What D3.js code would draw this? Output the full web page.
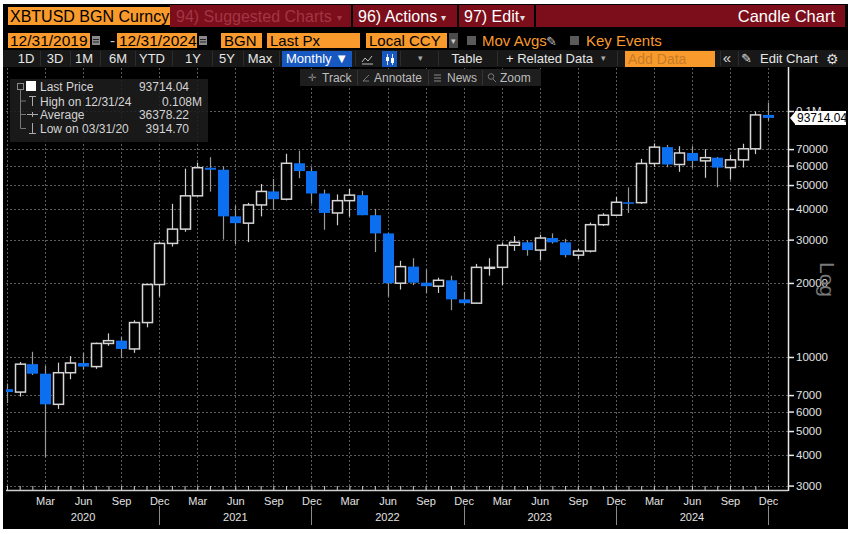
<!DOCTYPE html>
<html>
<head>
<meta charset="utf-8">
<script src="https://cdn.jsdelivr.net/npm/d3@7"></script>
<style>
  body { margin: 0; background: #fff; }
  svg { display: block; font-family: "Liberation Sans", Arial, sans-serif; }
</style>
</head>
<body>
<div id="wrapper"></div>
<script>
// monthly candles, Dec 2019 .. Dec 2024
const months = ["2019-12",
  "2020-01","2020-02","2020-03","2020-04","2020-05","2020-06","2020-07","2020-08","2020-09","2020-10","2020-11","2020-12",
  "2021-01","2021-02","2021-03","2021-04","2021-05","2021-06","2021-07","2021-08","2021-09","2021-10","2021-11","2021-12",
  "2022-01","2022-02","2022-03","2022-04","2022-05","2022-06","2022-07","2022-08","2022-09","2022-10","2022-11","2022-12",
  "2023-01","2023-02","2023-03","2023-04","2023-05","2023-06","2023-07","2023-08","2023-09","2023-10","2023-11","2023-12",
  "2024-01","2024-02","2024-03","2024-04","2024-05","2024-06","2024-07","2024-08","2024-09","2024-10","2024-11","2024-12"];

const openPx = [7400,
  7200, 9350, 8550, 6420, 8630, 9450, 9140, 11350, 11650, 10780, 13800, 19700,
  28950, 33100, 45200, 58800, 57700, 37300, 35000, 41500, 47100, 43800, 61300, 57000,
  46200, 38500, 43200, 45500, 37700, 31800, 19950, 23300, 20050, 19400, 20500, 17150,
  16550, 23140, 23150, 28450, 29250, 27200, 30450, 29250, 25950, 26950, 34500, 37700,
  42550, 42400, 61200, 71300, 60600, 67500, 62700, 64600, 58900, 63300, 70200, 96400];

const highPx = [7800,
  9550, 10500, 9200, 9480, 10080, 10400, 11440, 12470, 12080, 14100, 19860, 29300,
  41950, 58300, 61700, 64900, 59600, 41300, 42300, 50500, 52900, 67000, 69000, 59100,
  47900, 45800, 48200, 47400, 40000, 31900, 24600, 25200, 22700, 21000, 21400, 18400,
  23900, 25200, 29200, 31000, 29800, 31400, 31800, 30200, 27500, 35200, 38400, 44700,
  48900, 63900, 73800, 72800, 71900, 71900, 70000, 65000, 66500, 73600, 99600, 108300];

const lowPx = [6500,
  6900, 8450, 3914.7, 6150, 8120, 8900, 8950, 11100, 9880, 10400, 13200, 17600,
  28100, 32300, 45000, 47000, 30000, 28800, 29300, 37300, 39600, 43300, 53300, 42000,
  32900, 34300, 37200, 37700, 26700, 17600, 18800, 19600, 18200, 18200, 15500, 16300,
  16500, 21400, 19600, 27000, 25800, 24800, 28900, 25400, 24900, 26600, 34100, 37600,
  38500, 41900, 59300, 59100, 56600, 58500, 53500, 49000, 52600, 58900, 66800, 91300];

const closePx = [7200,
  9350, 8550, 6420, 8630, 9450, 9140, 11350, 11650, 10780, 13800, 19700, 28950,
  33100, 45200, 58800, 57700, 37300, 35000, 41500, 47100, 43800, 61300, 57000, 46200,
  38500, 43200, 45500, 37700, 31800, 19950, 23300, 20050, 19400, 20500, 17150, 16550,
  23140, 23150, 28450, 29250, 27200, 30450, 29250, 25950, 26950, 34500, 37700, 42550,
  42400, 61200, 71300, 60600, 67500, 62700, 64600, 58900, 63300, 70200, 96400, 93714.04];

const yTicks = [3000, 4000, 5000, 6000, 7000, 10000, 20000, 30000, 40000, 50000, 60000, 70000, 100000];
const yTickLabels = ["3000","4000","5000","6000","7000","10000","20000","30000","40000","50000","60000","70000","0.1M"];
const quarterNames = {"03": "Mar", "06": "Jun", "09": "Sep", "12": "Dec"};
const years = ["2020", "2021", "2022", "2023", "2024"];
const yearMid = ["2020-06", "2021-06", "2022-06", "2023-06", "2024-06"];
const yearEnd = ["2020-12", "2021-12", "2022-12", "2023-12", "2024-12"];

const legendNames = ["Last Price", "High on 12/31/24", "Average", "Low on 03/31/20"];
const legendValues = ["93714.04", "0.108M", "36378.22", "3914.70"];
const lastPrice = 93714.04;

const data = months.map((m, i) => ({m: m, o: openPx[i], h: highPx[i], l: lowPx[i], c: closePx[i]}));

const width = 851, height = 534;
const plot = {left: 6, right: 788, top: 68, bottom: 490};

const svg = d3.select("#wrapper").append("svg")
    .attr("width", width).attr("height", height);

svg.append("rect").attr("x", 3).attr("y", 4).attr("width", 845).attr("height", 525).attr("fill", "#000");

const xScale = d3.scalePoint().domain(months).range([7, 768]);
const yScale = d3.scaleLog().domain([3000, 100000]).range([485.6, 111]);

// grid
const grid = svg.append("g").attr("stroke", "#5a5a5a").attr("stroke-dasharray", "2,2").attr("stroke-width", 1);
yTicks.forEach(v => {
  grid.append("line").attr("x1", plot.left).attr("x2", plot.right)
    .attr("y1", Math.round(yScale(v)) + 0.5).attr("y2", Math.round(yScale(v)) + 0.5);
});
months.filter((m, i) => i == 0 || quarterNames[m.slice(5)]).forEach(m => {
  grid.append("line").attr("y1", plot.top).attr("y2", plot.bottom)
    .attr("x1", Math.round(xScale(m)) + 0.5).attr("x2", Math.round(xScale(m)) + 0.5);
});

// candles
svg.append("clipPath").attr("id", "clip").append("rect")
  .attr("x", plot.left).attr("y", plot.top).attr("width", plot.right - plot.left).attr("height", plot.bottom - plot.top);
const candles = svg.append("g").attr("clip-path", "url(#clip)");
const bw = 10;

data.forEach(d => {
  const cx = Math.round(xScale(d.m)) + 0.5;
  const up = d.c >= d.o;
  const top = yScale(Math.max(d.o, d.c)), bot = yScale(Math.min(d.o, d.c));
  candles.append("line").attr("x1", cx).attr("x2", cx)
    .attr("y1", yScale(d.h)).attr("y2", yScale(d.l))
    .attr("stroke", up ? "#d0d0d0" : "#9a9a9a").attr("stroke-width", 1.2);
  if (up) {
    candles.append("rect").attr("x", cx - bw / 2).attr("y", top)
      .attr("width", bw).attr("height", Math.max(bot - top, 1))
      .attr("fill", "#000").attr("stroke", "#d6d6d6").attr("stroke-width", 1.5);
  } else {
    candles.append("rect").attr("x", cx - bw / 2 - 0.5).attr("y", top)
      .attr("width", bw + 1).attr("height", Math.max(bot - top, 1.5))
      .attr("fill", "#0b6ff0");
  }
});

// x axis
const xAxis = d3.axisBottom(xScale)
  .tickValues(months)
  .tickSizeInner(-4).tickSizeOuter(0).tickPadding(7)
  .tickFormat((m, i) => i == 0 ? "" : (quarterNames[m.slice(5)] || ""));
const gx = svg.append("g").attr("transform", `translate(0,${plot.bottom})`).call(xAxis);
gx.select(".domain").attr("stroke", "#cfcfcf").attr("stroke-width", 1.5)
  .attr("d", `M${plot.left},0.5H${plot.right}`);
gx.selectAll(".tick line").attr("stroke", "#cfcfcf");
gx.selectAll(".tick text").attr("fill", "#e2e2e2").attr("font-size", 11).attr("font-family", "Liberation Sans, Arial");

years.forEach((yr, i) => {
  svg.append("text").attr("x", xScale(yearMid[i])).attr("y", 521)
    .attr("text-anchor", "middle").attr("fill", "#e2e2e2").attr("font-size", 11).text(yr);
  svg.append("line").attr("x1", Math.round(xScale(yearEnd[i])) + 0.5).attr("x2", Math.round(xScale(yearEnd[i])) + 0.5)
    .attr("y1", 506).attr("y2", 525).attr("stroke", "#8a8a8a");
});

// y axis
const yAxis = d3.axisRight(yScale).tickValues(yTicks)
  .tickSizeInner(6).tickSizeOuter(0).tickPadding(2)
  .tickFormat((v, i) => yTickLabels[i]);
const gy = svg.append("g").attr("transform", `translate(${plot.right},0)`).call(yAxis);
gy.select(".domain").attr("stroke", "#e8e8e8").attr("stroke-width", 1.5)
  .attr("d", `M0.5,${plot.top - 5}V${plot.bottom + 1}`);
gy.selectAll(".tick line").attr("stroke", "#e8e8e8").attr("stroke-width", 1.5);
gy.selectAll(".tick text").attr("fill", "#e2e2e2").attr("font-size", 11.5).attr("font-family", "Liberation Sans, Arial");

svg.append("text").attr("transform", "translate(820,262) rotate(90)")
  .attr("fill", "#7a7a7a").attr("font-size", 21).text("Log");

// last price tag
const ty = yScale(lastPrice);
svg.append("path")
  .attr("d", `M790,${ty} L795,${ty - 6} L795,${ty - 7} L846,${ty - 7} L846,${ty + 7} L795,${ty + 7} L795,${ty + 6} Z`)
  .attr("fill", "#fff");
svg.append("text").attr("x", 797).attr("y", ty + 4.5).attr("fill", "#000").attr("font-size", 12)
  .text(d3.format(".2f")(lastPrice));

// legend box
const lg = svg.append("g");
lg.append("rect").attr("x", 10).attr("y", 79).attr("width", 198).attr("height", 63)
  .attr("fill", "#1c1c1c").attr("opacity", 0.88);
const rowY = [86, 101, 114.5, 128.5];
lg.append("rect").attr("x", 17.5).attr("y", 83.5).attr("width", 6).attr("height", 6).attr("fill", "none").attr("stroke", "#888");
lg.append("rect").attr("x", 26).attr("y", 81).attr("width", 10).attr("height", 10).attr("fill", "#fff");
lg.append("path").attr("d", `M20.5,90V${rowY[3]}M20.5,${rowY[1]}H26M20.5,${rowY[2]}H26M20.5,${rowY[3]}H26`)
  .attr("stroke", "#777").attr("fill", "none");
lg.append("path").attr("d", `M29,96.5H36M32.5,96.5V106`).attr("stroke", "#aaa").attr("fill", "none");
lg.append("path").attr("d", `M27,114.5H38M32.5,112V117`).attr("stroke", "#aaa").attr("fill", "none");
lg.append("path").attr("d", `M32.5,123V133M29,133.5H36`).attr("stroke", "#aaa").attr("fill", "none");
legendNames.forEach((n, i) => {
  lg.append("text").attr("x", 40).attr("y", rowY[i] + 4.5).attr("fill", "#d4d4d4").attr("font-size", 12).text(n);
  lg.append("text").attr("x", i == 1 ? 202 : 189).attr("y", rowY[i] + 4.5).attr("text-anchor", "end")
    .attr("fill", "#d4d4d4").attr("font-size", 12).text(legendValues[i]);
});

// ---- toolbar rows ----
function box(x, y, w, h, fill) {
  return svg.append("rect").attr("x", x).attr("y", y).attr("width", w).attr("height", h).attr("fill", fill);
}
function label(x, y, t, col, size, anchor) {
  return svg.append("text").attr("x", x).attr("y", y).attr("fill", col).attr("font-size", size)
    .attr("text-anchor", anchor || "start").text(t);
}

// row 1
box(8, 7, 162, 18, "#f99a2c");
label(10, 22, "XBTUSD BGN Curncy", "#000", 16);
box(170, 5, 675, 22, "#7c0d1a");
[351, 457, 534].forEach(x => box(x, 5, 2, 22, "#000"));
label(176, 22, "94) Suggested Charts", "#a23645", 16);
label(337, 21, "▾", "#a23645", 10);
label(358, 22, "96) Actions", "#fff", 16);
label(441, 21, "▾", "#ddd", 10);
label(464, 22, "97) Edit", "#fff", 16);
label(520, 21, "▾", "#ddd", 10);
label(835, 22, "Candle Chart", "#fff", 16.5, "end");

// row 2
function calIcon(x) {
  box(x, 36, 8, 9, "#8a8a8a");
  box(x + 1, 39, 6, 1, "#222");
  box(x + 1, 41.5, 6, 1, "#222");
}
box(8, 33, 82, 15, "#f99a2c"); label(10, 46, "12/31/2019", "#000", 15.5);
calIcon(92);
label(110, 46, "-", "#ccc", 15);
box(117, 33, 80, 15, "#f99a2c"); label(119, 46, "12/31/2024", "#000", 15.5);
calIcon(199);
box(221, 33, 41, 15, "#f99a2c"); label(224, 46, "BGN", "#000", 15);
box(267, 33, 93, 15, "#f99a2c"); label(270, 46, "Last Px", "#000", 15);
box(366, 33, 81, 15, "#f99a2c"); label(369, 46, "Local CCY", "#000", 15);
box(449, 33, 9, 15, "#4a4a4a"); label(453.5, 44, "▾", "#ccc", 9, "middle");
box(467, 36, 9, 9, "#5a5a5a"); label(482, 46, "Mov Avgs", "#f99a2c", 15);
label(546, 46, "✎", "#bbb", 13);
box(570, 36, 9, 9, "#5a5a5a"); label(586, 46, "Key Events", "#f99a2c", 15);

// row 3
box(3, 50, 845, 17, "#181818");
const row3 = [["1D", 26], ["3D", 55], ["1M", 84], ["6M", 118], ["YTD", 152], ["1Y", 193], ["5Y", 227], ["Max", 260]];
row3.forEach(r => label(r[1], 63, r[0], "#e6e6e6", 13, "middle"));
[40, 70, 100, 135, 172, 212, 243, 279, 355, 400, 438, 497, 617, 720, 738].forEach(x => box(x, 51, 1, 15, "#2c2c2c"));
box(282, 51, 70, 16, "#1657c0"); label(317, 63, "Monthly ▼", "#fff", 13, "middle");
svg.append("path").attr("d", "M362,62 L365,58 L368,61 L372,56 M362,64H373").attr("stroke", "#bbb").attr("fill", "none");
box(382, 51, 15, 16, "#1657c0");
svg.append("path").attr("d", "M387.5,54V65 M392.5,54V65").attr("stroke", "#dde").attr("stroke-width", 1);
box(386, 57, 3, 4, "#fff"); box(391, 58, 3, 5, "#fff");
label(420, 61, "▾", "#aaa", 9, "middle");
label(467, 63, "Table", "#e6e6e6", 13, "middle");
label(506, 63, "+ Related Data", "#e6e6e6", 13);
label(601, 61, "▾", "#aaa", 9);
box(625, 51, 90, 16, "#f99a2c"); label(628, 64, "Add Data", "#c87a26", 14);
label(727, 63, "«", "#ddd", 15, "middle");
label(741, 63, "✎", "#ddd", 13);
label(760, 63, "Edit Chart", "#e6e6e6", 13);
label(832, 64, "⚙", "#ddd", 14, "middle");

// row 4
box(300, 69, 241, 17, "#1e1e1e");
[357, 428, 482].forEach(x => box(x, 70, 1, 15, "#333"));
label(312, 81, "✛", "#888", 10, "middle");
label(322, 82, "Track", "#bdbdbd", 12);
svg.append("path").attr("d", "M363,81 L369,75 M363,81H369").attr("stroke", "#777").attr("fill", "none");
label(374, 82, "Annotate", "#bdbdbd", 12);
[74.5, 77.5, 80.5].forEach(y => box(434, y, 7, 1, "#888"));
label(447, 82, "News", "#bdbdbd", 12);
svg.append("circle").attr("cx", 491).attr("cy", 76.5).attr("r", 2.8).attr("fill", "none").attr("stroke", "#777");
svg.append("path").attr("d", "M493,79 L496,82").attr("stroke", "#777");
label(500, 82, "Zoom", "#bdbdbd", 12);
</script>
</body>
</html>
